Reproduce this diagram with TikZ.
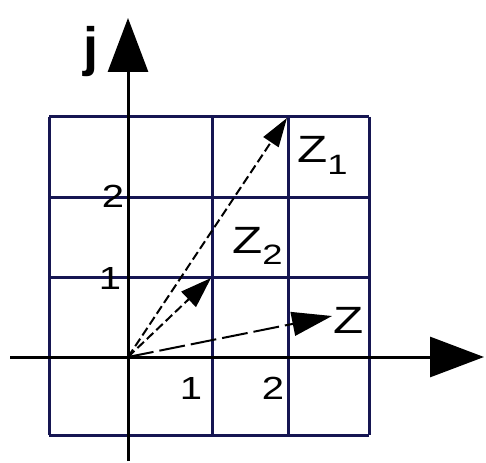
\documentclass[tikz,border=0pt]{standalone}
\usepackage{fontspec}
\setmainfont{Liberation Sans}
\usetikzlibrary{arrows.meta}
\definecolor{gridnavy}{RGB}{22,22,82}
\tikzset{
  gridline/.style={draw=gridnavy, line width=3pt},
  axis/.style={draw=black, line width=3pt, -{Triangle[length=54pt,width=40pt]}},
  vec/.style={draw=black, line width=2pt, dash pattern=on 9pt off 4pt},
  vecz/.style={draw=black, line width=2pt, dash pattern=on 26pt off 6pt, -{Triangle[length=40pt,width=24pt]}},
  num/.style={inner sep=0pt, font=\fontsize{32}{32}\selectfont, xscale=1.25},
  zlab/.style={inner sep=0pt, font=\fontsize{38}{38}\selectfont, xscale=1.3},
}
\begin{document}
\begin{tikzpicture}[x=1pt,y=-1pt]
\useasboundingbox (0,0) rectangle (486,462);
% grid
\foreach \xx in {49,128,212,288,369} \draw[gridline] (\xx,117) -- (\xx,435);
\foreach \yy in {117,197,277,357,435} \draw[gridline] (49,\yy) -- (369,\yy);
% axes
\coordinate (O) at (128,357);
\coordinate (xl) at (10,357);
\coordinate (xr) at (484,357);
\coordinate (yb) at (128,461);
\coordinate (yt) at (128,18);
\draw[axis] (xl) -- (xr);
\draw[axis] (yb) -- (yt);
% vectors
\coordinate (Z1) at (287,118);
\coordinate (Z2) at (211,278);
\coordinate (Z) at (332,316);
\draw[vec, -{Triangle[length=29pt,width=18pt]}] (O) -- (Z1);
\draw[vec, -{Triangle[length=31pt,width=21pt]}] (O) -- (Z2);
\draw[vecz] (O) -- (Z);
% labels
\node[inner sep=0pt, font=\bfseries\fontsize{54}{54}\selectfont, anchor=base] (j) at (91,66) {j};
\node[num] (y2) at (113,196) {2};
\node[num] (y1) at (110,278) {1};
\node[num] (x1) at (191,388) {1};
\node[num] (x2) at (273,388) {2};
\node[zlab, anchor=base west] (lz1) at (297,163) {Z\raisebox{-0.3em}{\fontsize{28}{28}\selectfont 1}};
\node[zlab, anchor=base west] (lz2) at (232,253) {Z\raisebox{-0.3em}{\fontsize{28}{28}\selectfont 2}};
\node[zlab, anchor=base west] (lz) at (333,333) {Z};
\end{tikzpicture}
\end{document}
